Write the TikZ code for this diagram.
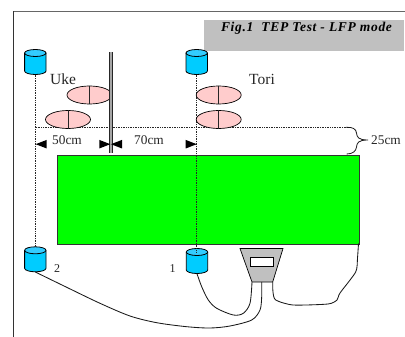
\documentclass[tikz,border=0pt]{standalone}
\usepackage{fontspec}
\setmainfont{Liberation Serif}
\usetikzlibrary{shapes.geometric}
\definecolor{cyl}{HTML}{00CCFF}
\definecolor{cyltop}{HTML}{33CCFF}
\definecolor{pinkfoot}{HTML}{FFCCCC}
\definecolor{padgreen}{HTML}{00FF00}
\definecolor{boxgray}{HTML}{C0C0C0}
\tikzset{
  sensorbox/.style={minimum width=21.4pt,minimum height=25pt,inner sep=0pt},
  foot/.style={ellipse,draw=black,line width=0.7pt,fill=pinkfoot,minimum width=45pt,minimum height=18pt,inner sep=0pt},
  lbl/.style={font=\fontsize{13.3}{15}\selectfont,text=black!85,inner sep=0pt},
  biglbl/.style={font=\fontsize{15.5}{17}\selectfont,text=black!85,inner sep=0pt},
  small/.style={font=\fontsize{12}{13}\selectfont,text=black!85,inner sep=0pt},
  guide/.style={densely dotted,line width=0.7pt,black!85},
  wire/.style={line width=0.85pt,black!90},
  dimtip/.style={fill=black,draw=none}
}
\newcommand{\sensorat}[3]{%
  \node[sensorbox] (#1) at (#2,#3) {};
  \begin{scope}[shift={(#1.center)}]
    \fill[cyl] (-10.7,-9) -- (-10.7,9) arc[start angle=180,end angle=0,x radius=10.7,y radius=3.5] -- (10.7,-9) -- cycle;
    \fill[cyltop] (0,-9) ellipse[x radius=10.7,y radius=3.5];
    \draw[line width=0.8pt,black] (-10.7,-9) -- (-10.7,9) arc[start angle=180,end angle=0,x radius=10.7,y radius=3.5] -- (10.7,-9);
    \draw[line width=0.8pt,black] (0,-9) ellipse[x radius=10.7,y radius=3.5];
  \end{scope}
}
\begin{document}
\begin{tikzpicture}[x=1pt,y=-1pt]
\useasboundingbox (0,0) rectangle (405,337);
\fill[white] (0,0) rectangle (405,337);
% frame
\draw[line width=0.9pt,black!60] (13.7,11) -- (405,11);
\draw[line width=0.8pt,black!80] (13.7,337) -- (13.7,11);
% title
\node[fill=boxgray,minimum width=200pt,minimum height=31pt,inner sep=0pt] (titlebox) at (304,35.5) {};
\node[inner sep=0pt,font=\fontsize{13.5}{15}\selectfont\bfseries\itshape\addfontfeatures{LetterSpace=5}] (title) at (306.5,28.5) {Fig.1\ \ TEP Test - LFP mode};
% pad
\node[draw=black!80,line width=0.9pt,fill=padgreen,minimum width=302.5pt,minimum height=89pt,inner sep=0pt] (pad) at (208.2,199.5) {};
% sensors
\sensorat{s3}{35.3}{62}
\sensorat{s4}{196.7}{62}
\sensorat{s2}{35.3}{259.3}
\sensorat{s1}{197}{261}
% guides
\coordinate (hl) at (36,127.3);
\coordinate (hr) at (346,127.3);
\draw[guide] (s3.south) -- (s2.north);
\draw[guide] (s4.south) -- (196.7,252);
\draw[guide] (hl) -- (hr);
% feet
\foreach \n/\x/\y in {a/89.5/95,b/68/119.5,c/218.7/95,d/218.7/119.5}{
  \node[foot] (\n) at (\x,\y) {};
  \draw[line width=0.7pt,black!85] (\n.north) -- (\n.south);
}
% pole
\coordinate (pt) at (111,52.3);
\coordinate (pb) at (111,153.5);
\draw[line width=3.3pt,black!85] (pt) -- (pb);
\draw[line width=1.4pt,black!35] (pt) -- (pb);
% dims
\coordinate (d1) at (35.7,144.2);
\coordinate (d2) at (110.3,144.2);
\coordinate (d3) at (111,144.2);
\coordinate (d4) at (196.7,144.2);
\fill[dimtip] (d1) -- ++(11,-4.3) -- ++(0,8.6) -- cycle;
\fill[dimtip] (d2) -- ++(-11,-4.3) -- ++(0,8.6) -- cycle;
\fill[dimtip] (d3) -- ++(11,-4.3) -- ++(0,8.6) -- cycle;
\fill[dimtip] (d4) -- ++(-11,-4.3) -- ++(0,8.6) -- cycle;
\node[lbl] (l50) at (67,140.5) {50cm};
\node[lbl] (l70) at (149,140.5) {70cm};
\node[biglbl] (uke) at (63,79) {Uke};
\node[biglbl] (tori) at (262,79) {Tori};
\node[lbl,anchor=west] (l25) at (371,140.5) {25cm};
\node[small] (n2) at (57,269) {2};
\node[small] (n1) at (172.5,269) {1};
% brace
\coordinate (bt) at (346,127.3);
\coordinate (bb) at (346.7,154);
\draw[line width=0.8pt,black!90] (bt) .. controls (353,127) and (356,129) .. (356.5,133)
  .. controls (357,137) and (358,140) .. (368,140)
  .. controls (358,140) and (357,143) .. (356.5,147)
  .. controls (356,151) and (353,154) .. (bb);
% meter
\coordinate (mtl) at (240,248.5);
\coordinate (mtr) at (283,248.5);
\coordinate (ml) at (252,282);
\coordinate (mm) at (261.7,282);
\coordinate (mr) at (272.7,282);
\draw[line width=0.7pt,black,fill=boxgray] (mtl) -- (mtr) -- (mr) -- (ml) -- cycle;
\node[draw=black,line width=0.7pt,fill=white,minimum width=23pt,minimum height=9pt,inner sep=0pt] (disp) at (262,261.5) {};
\coordinate (pc) at (358.5,243.5);
% wires
\draw[wire] plot[smooth,tension=0.5] coordinates {(s2.south) (66.7,287.3) (100,303.3) (130,316) (156.7,322.7) (186.7,326.7) (210,328) (230,326) (251.7,320) (260,310) (261.7,296.7) (mm)};
\draw[wire] plot[smooth,tension=0.5] coordinates {(s1.south) (201.7,286.7) (208.3,300) (216.7,308.3) (233.3,315) (243.3,313.3) (250,303.3) (ml)};
\draw[wire] plot[smooth,tension=0.4] coordinates {(mr) (273,292) (275.7,300) (293,305) (328,304) (337,300) (340,293) (355.7,272) (357.5,258) (pc)};
\end{tikzpicture}
\end{document}
